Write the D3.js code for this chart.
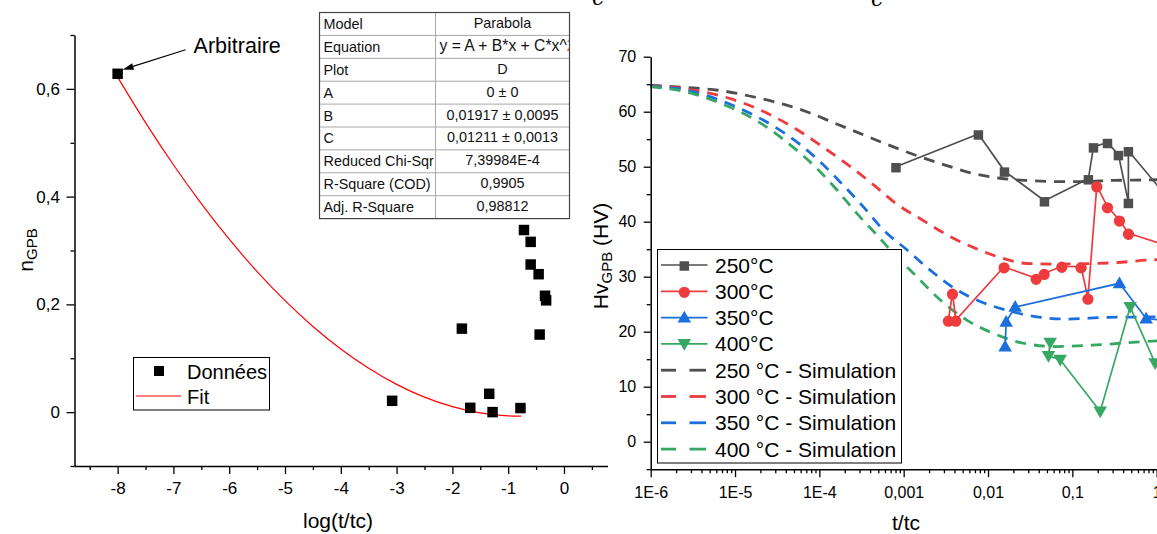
<!DOCTYPE html>
<html><head><meta charset="utf-8">
<script src="https://cdn.jsdelivr.net/npm/d3@7"></script>
<style>body{margin:0;background:#fff;} svg{display:block;font-family:"Liberation Sans",Arial,sans-serif;}</style>
</head><body><svg id="c" width="1157" height="534"></svg>
<script>
// ---------- LEFT CHART DATA ----------
const leftX = [-8, -3.08, -1.83, -1.68, -1.34, -1.28, -0.78, -0.717, -0.597, -0.597, -0.454, -0.436, -0.34, -0.32];
const leftY = [0.628, 0.021, 0.155, 0.008, 0.034, 0.0, 0.0075, 0.338, 0.316, 0.274, 0.256, 0.144, 0.216, 0.2075];
const fitX = [-8, -7.5, -7, -6.5, -6, -5.5, -5, -4.5, -4, -3.5, -3, -2.5, -2, -1.5, -1, -0.77];
const fitY = [0.6217, 0.5374, 0.4592, 0.3870, 0.3209, 0.2609, 0.2069, 0.1590, 0.1171, 0.0813, 0.0515, 0.0278, 0.0101, -0.0015, -0.0071, -0.0076];
const leftXTicks = [-8, -7, -6, -5, -4, -3, -2, -1, 0];
const leftXMinor = [-8.5, -7.5, -6.5, -5.5, -4.5, -3.5, -2.5, -1.5, -0.5, 0.5];
const leftYTicks = [0, 0.2, 0.4, 0.6];
const leftYTickLabels = ["0", "0,2", "0,4", "0,6"];
const leftYMinor = [-0.1, 0.1, 0.3, 0.5, 0.7];
const tableNames = ["Model", "Equation", "Plot", "A", "B", "C", "Reduced Chi-Sqr", "R-Square (COD)", "Adj. R-Square"];
const tableValues = ["Parabola", "y = A + B*x + C*x^2", "D", "0 ± 0", "0,01917 ± 0,0095", "0,01211 ± 0,0013", "7,39984E-4", "0,9905", "0,98812"];

// ---------- RIGHT CHART DATA ----------
const s250X = [8.1e-4, 0.00769, 0.01567, 0.0467, 0.155, 0.178, 0.261, 0.352, 0.462, 0.462, 1.26];
const s250Y = [50.0, 55.95, 49.2, 43.8, 47.8, 53.6, 54.4, 52.2, 43.5, 52.9, 44.9];
const s300X = [0.00339, 0.00379, 0.00415, 0.0155, 0.0372, 0.0463, 0.075, 0.127, 0.153, 0.195, 0.261, 0.362, 0.463, 1.66];
const s300Y = [22.1, 27.0, 22.1, 31.8, 29.7, 30.6, 31.9, 31.8, 26.1, 46.5, 42.7, 40.3, 37.9, 35.2];
const s350X = [0.01596, 0.0164, 0.021, 0.362, 0.751, 1.66];
const s350Y = [17.3, 21.8, 24.5, 28.8, 22.4, 21.8];
const s400X = [0.0546, 0.0521, 0.0717, 0.214, 0.485, 0.959];
const s400Y = [18.0, 15.6, 14.9, 5.5, 24.5, 14.3];

const sim250X = [1e-6, 2.67e-6, 6.3e-6, 1.44e-5, 3.1e-5, 7.1e-5, 1.53e-4, 3.33e-4, 7.55e-4, 1.57e-3, 3.55e-3, 7.0e-3, 0.0139, 0.0288, 0.059, 0.123, 0.309, 0.76, 2];
const sim250Y = [64.8, 64.4, 63.9, 62.9, 61.7, 60.0, 57.9, 55.8, 53.6, 51.8, 50.0, 48.7, 47.9, 47.5, 47.3, 47.3, 47.5, 47.6, 47.7];
const sim300X = [1e-6, 2.67e-6, 6.3e-6, 1.34e-5, 2.9e-5, 5.9e-5, 1.17e-4, 2.25e-4, 4.4e-4, 8.1e-4, 1.71e-3, 3.55e-3, 7.0e-3, 0.0139, 0.0288, 0.059, 0.28, 0.76, 2];
const sim300Y = [64.7, 64.1, 63.0, 61.4, 59.1, 56.4, 53.3, 50.2, 46.7, 43.3, 40.2, 37.3, 35.2, 33.5, 32.4, 32.3, 32.5, 33.0, 33.3];
const sim350X = [1e-6, 2.67e-6, 6.07e-6, 1.25e-5, 2.65e-5, 5.4e-5, 1.02e-4, 1.9e-4, 3.33e-4, 5.74e-4, 1.09e-3, 2.06e-3, 4.27e-3, 8.06e-3, 0.0167, 0.038, 0.086, 0.257, 1.0, 2];
const sim350Y = [64.6, 63.9, 62.3, 60.3, 57.7, 54.5, 50.9, 46.7, 42.7, 38.5, 34.9, 31.2, 27.6, 25.5, 23.9, 22.7, 22.3, 22.6, 22.7, 22.8];
const sim400X = [1e-6, 2.67e-6, 6.07e-6, 1.25e-5, 2.48e-5, 4.83e-5, 8.9e-5, 1.61e-4, 2.78e-4, 4.8e-4, 9.0e-4, 1.25e-3, 2.7e-3, 5.6e-3, 0.0116, 0.0263, 0.0655, 0.195, 0.697, 2];
const sim400Y = [64.5, 63.6, 61.8, 59.7, 57.0, 53.6, 50.0, 45.8, 41.5, 37.6, 33.0, 30.9, 25.8, 22.1, 19.7, 17.9, 17.3, 17.6, 18.2, 18.5];

const rightXTicks = [1e-6, 1e-5, 1e-4, 1e-3, 1e-2, 1e-1, 1];
const rightXTickLabels = ["1E-6", "1E-5", "1E-4", "0,001", "0,01", "0,1", "1"];
const rightYTicks = [0, 10, 20, 30, 40, 50, 60, 70];
const rightYMinor = [-5, 5, 15, 25, 35, 45, 55, 65];
const legendLabels = ["250°C", "300°C", "350°C", "400°C", "250 °C - Simulation", "300 °C - Simulation", "350 °C - Simulation", "400 °C - Simulation"];

const C_GRAY = "#4f4f4f", C_RED = "#ee3b3d", C_BLUE = "#1b6fdc", C_GREEN = "#36a864";

const svg = d3.select("#c");
const FONT = '"Liberation Sans", Arial, sans-serif';

function styleAxis(g, fs) {
  g.select(".domain").attr("stroke", "#000").attr("stroke-width", 1.5);
  g.selectAll(".tick line").attr("stroke", "#000").attr("stroke-width", 1.3);
  g.selectAll("text").attr("font-size", fs).attr("fill", "#000").attr("font-family", FONT);
}
function minorAxis(g) {
  g.select(".domain").remove();
  g.selectAll(".tick line").attr("stroke", "#000").attr("stroke-width", 1.3);
}

// ================= LEFT CHART =================
const lx = d3.scaleLinear().domain([-8.78, 0.78]).range([74.1, 607.5]);
const ly = d3.scaleLinear().domain([-0.1, 0.7]).range([466, 35]);

svg.append("path")
  .attr("d", d3.line().curve(d3.curveMonotoneX)(fitX.map((x, i) => [lx(x), ly(fitY[i])])))
  .attr("fill", "none").attr("stroke", "#ff0000").attr("stroke-width", 1.2);

svg.append("g").selectAll("path").data(leftX).join("path")
  .attr("transform", (d, i) => `translate(${lx(d)},${ly(leftY[i])})`)
  .attr("d", d3.symbol(d3.symbolSquare, 110)()).attr("fill", "#000");

svg.append("g").attr("transform", "translate(0,466)")
  .call(d3.axisBottom(lx).tickValues(leftXTicks).tickSize(8).tickSizeOuter(0).tickPadding(8.3).tickFormat(d => d3.format("d")(d).replace("−", "-")))
  .call(g => styleAxis(g, 17));
svg.append("g").attr("transform", "translate(0,466)")
  .call(d3.axisBottom(lx).tickValues(leftXMinor).tickSize(4).tickFormat(""))
  .call(minorAxis);
svg.append("g").attr("transform", "translate(74.5,0)")
  .call(d3.axisLeft(ly).tickValues(leftYTicks).tickSize(8).tickSizeOuter(0).tickPadding(6.5).tickFormat((d, i) => leftYTickLabels[i]))
  .call(g => styleAxis(g, 17));
svg.append("g").attr("transform", "translate(74.5,0)")
  .call(d3.axisLeft(ly).tickValues(leftYMinor).tickSize(4).tickFormat(""))
  .call(minorAxis);

svg.append("text").attr("x", 338).attr("y", 528).attr("text-anchor", "middle")
  .attr("font-size", 21).attr("font-family", FONT).text("log(t/tc)");
svg.append("text").attr("transform", "translate(33,250) rotate(-90)").attr("text-anchor", "middle")
  .attr("font-size", 21).attr("font-family", FONT)
  .call(t => { t.append("tspan").text("n"); t.append("tspan").attr("font-size", 15).attr("dy", 4).text("GPB"); });

// Annotation "Arbitraire"
{
  const px = lx(leftX[0]), py = ly(leftY[0]);
  const tipX = px + 5, tipY = py - 4, tailX = px + 68, tailY = py - 24;
  svg.append("line").attr("x1", tailX).attr("y1", tailY).attr("x2", tipX + 8).attr("y2", tipY - 2.6)
    .attr("stroke", "#000").attr("stroke-width", 1.2);
  const ang = Math.atan2(tipY - tailY, tipX - tailX);
  const L = 11, W = 3.5;
  const bx = tipX - L * Math.cos(ang), by = tipY - L * Math.sin(ang);
  svg.append("path").attr("d", `M${tipX},${tipY}L${bx - W * Math.sin(ang)},${by + W * Math.cos(ang)}L${bx + W * Math.sin(ang)},${by - W * Math.cos(ang)}Z`).attr("fill", "#000");
  svg.append("text").attr("x", tailX + 8).attr("y", tailY + 3).attr("font-size", 21.5).attr("font-family", FONT).text("Arbitraire");
}

// Left legend
{
  const g = svg.append("g");
  g.append("rect").attr("x", 133.5).attr("y", 357.5).attr("width", 136).attr("height", 52.5)
    .attr("fill", "#fff").attr("stroke", "#000").attr("stroke-width", 1);
  g.append("path").attr("transform", "translate(159,371)").attr("d", d3.symbol(d3.symbolSquare, 100)()).attr("fill", "#000");
  g.append("line").attr("x1", 136).attr("x2", 181).attr("y1", 396).attr("y2", 396).attr("stroke", "#ff0000").attr("stroke-width", 1.2);
  g.append("text").attr("x", 187).attr("y", 378.5).attr("font-size", 20).attr("font-family", FONT).text("Données");
  g.append("text").attr("x", 187).attr("y", 403.5).attr("font-size", 20).attr("font-family", FONT).text("Fit");
}

// Table
{
  const x0 = 319.5, x1 = 569.5, xd = 435.5, y0 = 12.5, rh = 22.9;
  const g = svg.append("g");
  g.append("defs").append("clipPath").attr("id", "tclip").append("rect").attr("x", xd).attr("y", y0).attr("width", x1 - xd - 1).attr("height", rh * 9);
  g.append("rect").attr("x", x0).attr("y", y0).attr("width", x1 - x0).attr("height", rh * 9).attr("fill", "#fff");
  for (let i = 1; i < 9; i++) g.append("line").attr("x1", x0).attr("x2", x1).attr("y1", y0 + i * rh).attr("y2", y0 + i * rh).attr("stroke", "#a8a8a8").attr("stroke-width", 1);
  g.append("line").attr("x1", xd).attr("x2", xd).attr("y1", y0).attr("y2", y0 + 9 * rh).attr("stroke", "#a8a8a8").attr("stroke-width", 1);
  g.append("rect").attr("x", x0).attr("y", y0).attr("width", x1 - x0).attr("height", rh * 9).attr("fill", "none").attr("stroke", "#444").attr("stroke-width", 1.2);
  tableNames.forEach((n, i) => {
    g.append("text").attr("x", x0 + 4).attr("y", y0 + i * rh + rh / 2 + 5).attr("font-size", 14.4).attr("font-family", FONT).attr("fill", "#111").text(n);
    const v = g.append("text").attr("y", y0 + i * rh + rh / 2 + 4).attr("font-size", 14.4).attr("font-family", FONT).attr("fill", "#111").text(tableValues[i]);
    if (i === 1) v.attr("x", xd + 4).attr("font-size", 15.7).attr("clip-path", "url(#tclip)");
    else v.attr("x", (xd + x1) / 2).attr("text-anchor", "middle");
  });
}

// ================= RIGHT CHART =================
const rx = d3.scaleLog().domain([1e-6, 10]).range([650.7, 1241]);
const ry = d3.scaleLinear().domain([-5, 70]).range([469.2, 56.7]);
const lineGen = d3.line().curve(d3.curveMonotoneX);

const sims = [[sim250X, sim250Y, C_GRAY], [sim300X, sim300Y, C_RED], [sim350X, sim350Y, C_BLUE], [sim400X, sim400Y, C_GREEN]];
sims.forEach(([xs, ys, col]) => {
  svg.append("path").attr("d", lineGen(xs.map((x, i) => [rx(x), ry(ys[i])])))
    .attr("fill", "none").attr("stroke", col).attr("stroke-width", 2.8).attr("stroke-dasharray", "11,8");
});

const series = [
  [s250X, s250Y, C_GRAY, d3.symbolSquare, 90, 0],
  [s300X, s300Y, C_RED, d3.symbolCircle, 100, 0],
  [s350X, s350Y, C_BLUE, d3.symbolTriangle, 80, 0],
  [s400X, s400Y, C_GREEN, d3.symbolTriangle, 80, 180]
];
series.forEach(([xs, ys, col, sym, sz, rot]) => {
  svg.append("path").attr("d", d3.line()(xs.map((x, i) => [rx(x), ry(ys[i])])))
    .attr("fill", "none").attr("stroke", col).attr("stroke-width", 1.7);
  svg.append("g").selectAll("path").data(xs).join("path")
    .attr("transform", (d, i) => `translate(${rx(d)},${ry(ys[i]) + (rot ? -1 : 1)}) rotate(${rot})`)
    .attr("d", d3.symbol(sym, sz)()).attr("fill", col);
});

svg.append("g").attr("transform", "translate(0,469.2)")
  .call(d3.axisBottom(rx).tickValues(rightXTicks).tickSize(8).tickSizeOuter(0).tickPadding(9.7).tickFormat((d, i) => rightXTickLabels[i]))
  .call(g => styleAxis(g, 16));
const rMinor = [];
rightXTicks.forEach(t => { for (let k = 2; k <= 9; k++) rMinor.push(t * k); });
svg.append("g").attr("transform", "translate(0,469.2)")
  .call(d3.axisBottom(rx).tickValues(rMinor).tickSize(4).tickFormat(""))
  .call(minorAxis);
svg.append("g").attr("transform", "translate(650.7,0)")
  .call(d3.axisLeft(ry).tickValues(rightYTicks).tickSize(7).tickSizeOuter(0).tickPadding(7.5).tickFormat(d3.format("d")))
  .call(g => styleAxis(g, 16));
svg.append("g").attr("transform", "translate(650.7,0)")
  .call(d3.axisLeft(ry).tickValues(rightYMinor).tickSize(4).tickFormat(""))
  .call(minorAxis);

svg.append("text").attr("x", 906).attr("y", 530).attr("text-anchor", "middle")
  .attr("font-size", 21).attr("font-family", FONT).text("t/tc");
svg.append("text").attr("transform", "translate(608,256) rotate(-90)").attr("text-anchor", "middle")
  .attr("font-size", 21).attr("font-family", FONT)
  .call(t => {
    t.append("tspan").text("Hv");
    t.append("tspan").attr("font-size", 15).attr("dy", 4).text("GPB");
    t.append("tspan").attr("dy", -4).text(" (HV)");
  });

// Right legend
{
  const g = svg.append("g");
  const bx = 657.5, by = 249.5, bw = 244, bh = 213.5;
  g.append("rect").attr("x", bx).attr("y", by).attr("width", bw).attr("height", bh)
    .attr("fill", "#fff").attr("stroke", "#000").attr("stroke-width", 1);
  const rowY = i => 265 + i * 26.3;
  series.forEach(([xs, ys, col, sym, sz, rot], i) => {
    g.append("line").attr("x1", 661).attr("x2", 707.5).attr("y1", rowY(i)).attr("y2", rowY(i)).attr("stroke", col).attr("stroke-width", 1.7);
    g.append("path").attr("transform", `translate(684.3,${rowY(i) + (rot ? -1 : 1)}) rotate(${rot})`).attr("d", d3.symbol(sym, sz)()).attr("fill", col);
  });
  sims.forEach(([xs, ys, col], j) => {
    const i = j + 4;
    g.append("line").attr("x1", 661).attr("x2", 676).attr("y1", rowY(i)).attr("y2", rowY(i)).attr("stroke", col).attr("stroke-width", 2.8);
    g.append("line").attr("x1", 689.5).attr("x2", 706).attr("y1", rowY(i)).attr("y2", rowY(i)).attr("stroke", col).attr("stroke-width", 2.8);
  });
  legendLabels.forEach((lab, i) => {
    g.append("text").attr("x", 715).attr("y", rowY(i) + 7.5).attr("font-size", 21).attr("font-family", FONT).text(lab);
  });
}

// cut-off glyphs at the very top (from text above the image)
svg.append("text").attr("x", 592).attr("y", 5).attr("font-size", 22).attr("font-style", "italic").attr("font-family", "DejaVu Serif, serif").text("c");
svg.append("text").attr("x", 871).attr("y", 6).attr("font-size", 22).attr("font-style", "italic").attr("font-family", "DejaVu Serif, serif").text("c");
</script>
</body></html>
